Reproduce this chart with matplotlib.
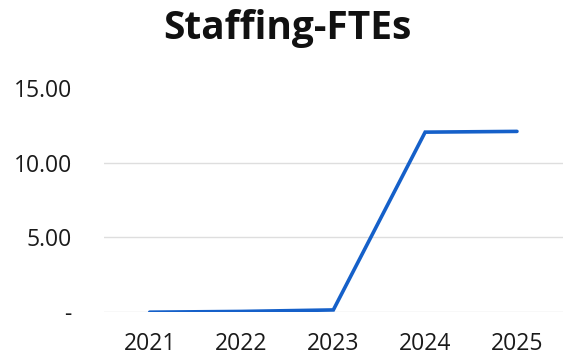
import matplotlib
matplotlib.use("Agg")
import matplotlib.pyplot as plt
from matplotlib.ticker import FuncFormatter

years = ["2021", "2022", "2023", "2024", "2025"]
ftes = [0.0, 0.05, 0.15, 12.05, 12.1]
y_ticks = [0, 5, 10, 15]

plt.rcParams["font.family"] = ["Open Sans", "DejaVu Sans"]

fig = plt.figure(figsize=(5.64, 3.58), dpi=100)
ax = fig.add_axes([0.184, 0.128, 0.814, 0.626])

x = list(range(len(years)))
ax.plot(x, ftes, color="#1560c9", linewidth=2.6, solid_joinstyle="miter",
        solid_capstyle="round", zorder=3)

ax.set_xlim(-0.5, len(years) - 0.5)
ax.set_ylim(0, 15)
ax.set_yticks(y_ticks)
ax.set_xticks(x)
ax.set_xticklabels(years)

def accounting(v, pos):
    return "-" if abs(v) < 1e-9 else f"{v:.2f}"

ax.yaxis.set_major_formatter(FuncFormatter(accounting))

for v in y_ticks[:-1]:
    ax.axhline(v, color="#dedede", linewidth=1.0, zorder=1)

for s in ax.spines.values():
    s.set_visible(False)
ax.tick_params(axis="both", length=0, labelsize=16.5, colors="#1a1a1a")
ax.tick_params(axis="y", pad=23)
ax.tick_params(axis="x", pad=14.5)

fig.text(0.51, 0.891, "Staffing-FTEs", ha="center", va="baseline",
         fontsize=28, fontweight="bold", color="#111111")

fig.savefig("out.png", dpi=100, facecolor="white")
